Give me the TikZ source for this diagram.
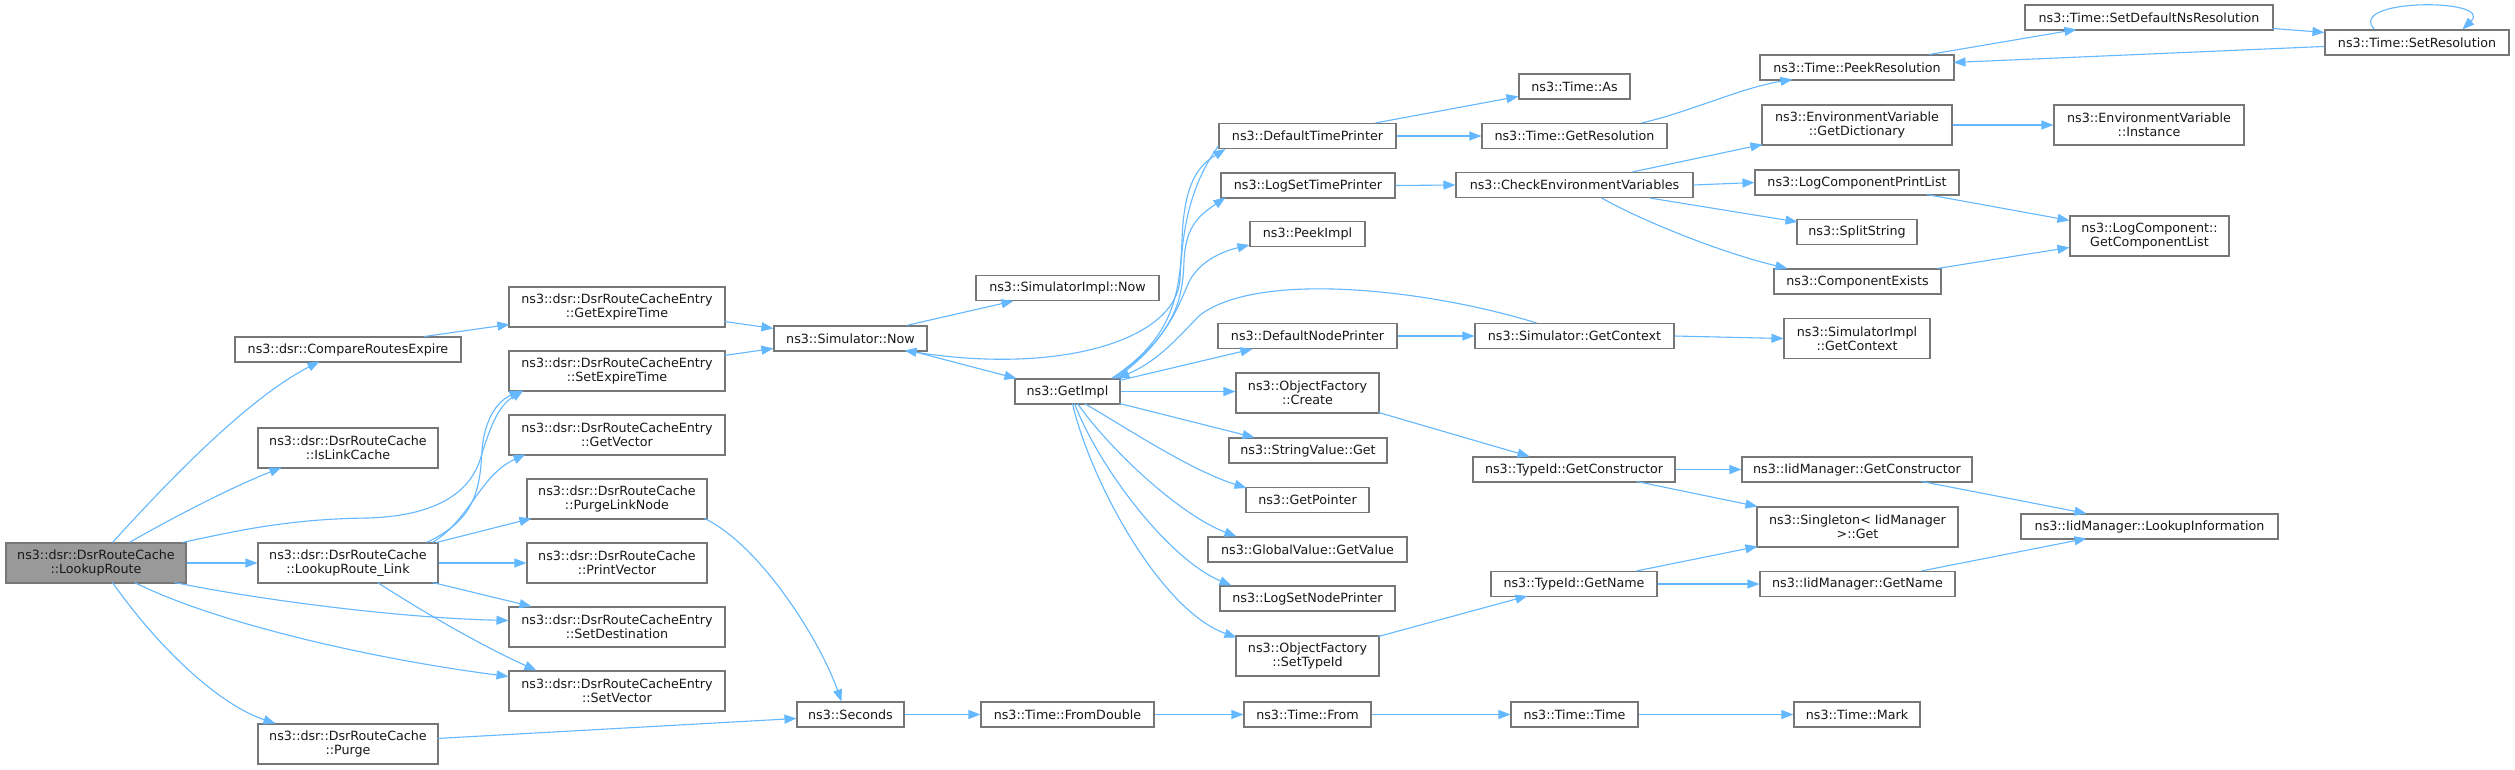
\documentclass[tikz,border=0pt]{standalone}
\usepackage{fontspec}
\setmainfont{DejaVu Sans}
\usetikzlibrary{arrows.meta,calc}
\definecolor{edgec}{HTML}{63B8FF}
\definecolor{boxc}{HTML}{777777}
\definecolor{rootc}{HTML}{999999}
\begin{document}
\begin{tikzpicture}[x=1pt,y=-1pt,
 box/.style={draw=boxc,line width=1.1pt,fill=white,inner sep=0pt,align=center,
   font=\fontsize{12.7}{14}\selectfont,text=black!90,minimum height=25pt},
 tall/.style={minimum height=40pt},
 e/.style={draw=edgec,line width=1.1pt,-{Triangle[length=12pt,width=9pt]}}]
\useasboundingbox[fill=white] (0,0) rectangle (2515,769);
% column 0
\node[box,tall,fill=rootc,minimum width=180pt] (lr) at (96,563) {ns3::dsr::DsrRouteCache\\::LookupRoute};
% column 1
\node[box,minimum width=226pt] (cre) at (348,349.5) {ns3::dsr::CompareRoutesExpire};
\node[box,tall,minimum width=180pt] (ilc) at (348,448) {ns3::dsr::DsrRouteCache\\::IsLinkCache};
\node[box,tall,minimum width=180pt] (lrl) at (348,563) {ns3::dsr::DsrRouteCache\\::LookupRoute\_Link};
\node[box,tall,minimum width=180pt] (pur) at (348,744) {ns3::dsr::DsrRouteCache\\::Purge};
% column 2
\node[box,tall,minimum width=216pt] (get) at (617,307) {ns3::dsr::DsrRouteCacheEntry\\::GetExpireTime};
\node[box,tall,minimum width=216pt] (set) at (617,371) {ns3::dsr::DsrRouteCacheEntry\\::SetExpireTime};
\node[box,tall,minimum width=216pt] (gv) at (617,435) {ns3::dsr::DsrRouteCacheEntry\\::GetVector};
\node[box,tall,minimum width=180pt] (pln) at (617,499) {ns3::dsr::DsrRouteCache\\::PurgeLinkNode};
\node[box,tall,minimum width=180pt] (pv) at (617,563) {ns3::dsr::DsrRouteCache\\::PrintVector};
\node[box,tall,minimum width=216pt] (sd) at (617,627) {ns3::dsr::DsrRouteCacheEntry\\::SetDestination};
\node[box,tall,minimum width=216pt] (sv) at (617,691) {ns3::dsr::DsrRouteCacheEntry\\::SetVector};
% column 3
\node[box,minimum width=153pt] (sn) at (850.5,338.5) {ns3::Simulator::Now};
\node[box,minimum width=107pt] (sec) at (850.5,714.5) {ns3::Seconds};
% column 4
\node[box,minimum width=183pt] (sin) at (1067.5,288) {ns3::SimulatorImpl::Now};
\node[box,minimum width=105pt] (gi) at (1067.5,391.5) {ns3::GetImpl};
\node[box,minimum width=173pt] (tfd) at (1067.5,714.5) {ns3::Time::FromDouble};
% column 5
\node[box,minimum width=177pt] (dtp) at (1307.5,136) {ns3::DefaultTimePrinter};
\node[box,minimum width=174pt] (lstp) at (1308,185.5) {ns3::LogSetTimePrinter};
\node[box,minimum width=115pt] (pi) at (1307.5,234) {ns3::PeekImpl};
\node[box,minimum width=179pt] (dnp) at (1307.5,336) {ns3::DefaultNodePrinter};
\node[box,tall,minimum width=143pt] (ofc) at (1307.5,393) {ns3::ObjectFactory\\::Create};
\node[box,minimum width=158pt] (svg) at (1308,450.5) {ns3::StringValue::Get};
\node[box,minimum width=123pt] (gp) at (1307.5,500) {ns3::GetPointer};
\node[box,minimum width=199pt] (gvv) at (1307.5,549.5) {ns3::GlobalValue::GetValue};
\node[box,minimum width=175pt] (lsnp) at (1307.5,598.5) {ns3::LogSetNodePrinter};
\node[box,tall,minimum width=143pt] (ofs) at (1307.5,656) {ns3::ObjectFactory\\::SetTypeId};
\node[box,minimum width=127pt] (tf) at (1307.5,714.5) {ns3::Time::From};
% column 6
\node[box,minimum width=111pt] (tas) at (1574.5,86.5) {ns3::Time::As};
\node[box,minimum width=185pt] (tgr) at (1574.5,136) {ns3::Time::GetResolution};
\node[box,minimum width=237pt] (cev) at (1574.5,185) {ns3::CheckEnvironmentVariables};
\node[box,minimum width=199pt] (sgc) at (1574.5,336) {ns3::Simulator::GetContext};
\node[box,minimum width=202pt] (tgc) at (1574,469.5) {ns3::TypeId::GetConstructor};
\node[box,minimum width=166pt] (tgn) at (1574,584) {ns3::TypeId::GetName};
\node[box,minimum width=127pt] (tt) at (1574.5,714.5) {ns3::Time::Time};
% column 7
\node[box,minimum width=194pt] (tpr) at (1857,67.5) {ns3::Time::PeekResolution};
\node[box,tall,minimum width=190pt] (egd) at (1857,125) {ns3::EnvironmentVariable\\::GetDictionary};
\node[box,minimum width=204pt] (lcpl) at (1857,182.5) {ns3::LogComponentPrintList};
\node[box,minimum width=120pt] (ss) at (1857,232) {ns3::SplitString};
\node[box,minimum width=167pt] (ce) at (1857.5,281.5) {ns3::ComponentExists};
\node[box,tall,minimum width=146pt] (sigc) at (1857,338.5) {ns3::SimulatorImpl\\::GetContext};
\node[box,minimum width=230pt] (igc) at (1857,469.5) {ns3::IidManager::GetConstructor};
\node[box,tall,minimum width=201pt] (sg) at (1857.5,527) {ns3::Singleton< IidManager\\ >::Get};
\node[box,minimum width=195pt] (ign) at (1857.5,584) {ns3::IidManager::GetName};
\node[box,minimum width=126pt] (tm) at (1857,714.5) {ns3::Time::Mark};
% column 8
\node[box,minimum width=248pt] (tsd) at (2149,17.5) {ns3::Time::SetDefaultNsResolution};
\node[box,tall,minimum width=190pt] (evi) at (2149,125) {ns3::EnvironmentVariable\\::Instance};
\node[box,tall,minimum width=159pt] (lcg) at (2149.5,236) {ns3::LogComponent::\\GetComponentList};
\node[box,minimum width=257pt] (ili) at (2149.5,526.5) {ns3::IidManager::LookupInformation};
% column 9
\node[box,minimum width=184pt] (tsr) at (2417,42.5) {ns3::Time::SetResolution};

% ---- edges from LookupRoute
\draw[e] ($(lr.north west)+(107,0)$) .. controls (165,485) and (245,400) .. ($(cre.north west)+(85,25)$);
\draw[e] ($(lr.north west)+(124,0)$) .. controls (165,522) and (225,490) .. ($(ilc.north west)+(24,40)$);
\draw[e] ($(lr.north west)+(177,0)$) .. controls (240,530) and (290,519) .. (367,518)
   .. controls (440,516) and (470,490) .. (480,460) .. controls (492,420) and (500,405) .. ($(set.north west)+(15,40)$);
\draw[e] (lr.east) -- (lrl.west);
\draw[e] ($(lr.north west)+(169,40)$) .. controls (260,600) and (400,618) .. ($(sd.north west)+(0,14)$);
\draw[e] ($(lr.north west)+(129,40)$) .. controls (220,625) and (380,660) .. ($(sv.north west)+(0,6)$);
\draw[e] ($(lr.north west)+(107,40)$) .. controls (160,650) and (220,705) .. ($(pur.north west)+(18,0)$);
% ---- edges from LookupRoute_Link
\draw[e] ($(lrl.north west)+(169,0)$) .. controls (475,520) and (480,490) .. (482,450)
   .. controls (485,415) and (500,400) .. ($(set.north west)+(13,40)$);
\draw[e] ($(lrl.north west)+(175,0)$) .. controls (470,520) and (480,475) .. ($(gv.north west)+(17,40)$);
\draw[e] ($(lrl.north west)+(179,0)$) -- ($(pln.north west)+(5,40)$);
\draw[e] (lrl.east) -- (pv.west);
\draw[e] ($(lrl.north west)+(175,40)$) -- ($(sd.north west)+(23,0)$);
\draw[e] ($(lrl.north west)+(120,40)$) .. controls (420,610) and (480,645) .. ($(sv.north west)+(28,0)$);
% ---- other left edges
\draw[e] ($(pur.north west)+(180,15)$) -- ($(sec.north west)+(0,17)$);
\draw[e] ($(pln.north west)+(178,40)$) .. controls (760,545) and (820,640) .. ($(sec.north west)+(45,0)$);
\draw[e] ($(cre.north west)+(190,0)$) -- ($(get.north west)+(1,38)$);
\draw[e] ($(get.north west)+(216,35)$) -- ($(sn.north west)+(0,3)$);
\draw[e] ($(set.north west)+(216,5)$) -- ($(sn.north west)+(0,23)$);
% ---- Simulator::Now / GetImpl
\draw[e] ($(sn.north west)+(133,0)$) -- ($(sin.north west)+(38,26)$);
\draw[e] ($(sn.north west)+(136,25)$) -- ($(gi.north west)+(2,0)$);
\draw[e] ($(dtp.north west)+(0,23)$) .. controls (1190,185) and (1182,230) .. (1180,280)
   .. controls (1175,340) and (1060,375) .. ($(sn.north west)+(131,25)$);
\draw[e] ($(gi.north west)+(97,0)$) .. controls (1170,340) and (1180,300) .. (1182,240)
   .. controls (1184,180) and (1200,165) .. ($(dtp.north west)+(7,26)$);
\draw[e] ($(gi.north west)+(99,0)$) .. controls (1175,335) and (1183,300) .. (1184,260)
   .. controls (1186,225) and (1200,215) .. ($(lstp.north west)+(5,25)$);
\draw[e] ($(gi.north west)+(101,0)$) .. controls (1170,340) and (1180,300) .. (1190,280)
   .. controls (1200,262) and (1220,252) .. ($(pi.north west)+(0,24)$);
\draw[e] ($(sgc.north west)+(62,0)$) .. controls (1430,290) and (1260,270) .. (1200,315)
   .. controls (1180,335) and (1160,360) .. ($(gi.north west)+(103,0)$);
\draw[e] ($(gi.north west)+(105,2)$) -- ($(dnp.north west)+(35,26)$);
\draw[e] (gi.east) -- (gi.east -| ofc.west);
\draw[e] ($(gi.north west)+(105,25)$) -- ($(svg.north west)+(26,0)$);
\draw[e] ($(gi.north west)+(70,25)$) .. controls (1130,430) and (1190,470) .. ($(gp.north west)+(1,1)$);
\draw[e] ($(gi.north west)+(63,25)$) .. controls (1110,450) and (1180,515) .. ($(gvv.north west)+(29,0)$);
\draw[e] ($(gi.north west)+(60,25)$) .. controls (1100,470) and (1170,560) .. ($(lsnp.north west)+(12,0)$);
\draw[e] ($(gi.north west)+(58,25)$) .. controls (1090,480) and (1160,610) .. ($(ofs.north west)+(1,2)$);
% ---- column 5 -> 6
\draw[e] ($(ofc.north west)+(143,40)$) -- ($(tgc.north west)+(57,0)$);
\draw[e] ($(ofs.north west)+(143,1)$) -- ($(tgn.north west)+(37,25)$);
\draw[e] ($(dtp.north west)+(157,0)$) -- ($(tas.north west)+(0,23)$);
\draw[e] (dtp.east) -- (tgr.west);
\draw[e] (lstp.east) -- (cev.west);
\draw[e] (dnp.east) -- (sgc.west);
% ---- column 6 -> 7
\draw[e] ($(tgr.north west)+(160,0)$) .. controls (1690,112) and (1740,88) .. ($(tpr.north west)+(33,25)$);
\draw[e] ($(cev.north west)+(177,0)$) -- ($(egd.north west)+(1,40)$);
\draw[e] (cev.east) -- (lcpl.west);
\draw[e] ($(cev.north west)+(194,26)$) -- ($(ss.north west)+(1,3)$);
\draw[e] ($(cev.north west)+(146,26)$) .. controls (1650,225) and (1730,255) .. ($(ce.north west)+(14,0)$);
\draw[e] (sgc.east) -- (sigc.west);
\draw[e] (tgc.east) -- (igc.west);
\draw[e] ($(tgc.north west)+(164,25)$) -- ($(sg.north west)+(1,0)$);
\draw[e] ($(tgn.north west)+(146,0)$) -- ($(sg.north west)+(1,40)$);
\draw[e] (tgn.east) -- (ign.west);
% ---- column 7 -> 8
\draw[e] ($(igc.north west)+(180,25)$) -- ($(ili.north west)+(66,0)$);
\draw[e] ($(ign.north west)+(162,0)$) -- ($(ili.north west)+(66,25)$);
\draw[e] (egd.east) -- (evi.west);
\draw[e] ($(lcpl.north west)+(172,25)$) -- ($(lcg.north west)+(0,5)$);
\draw[e] ($(ce.north west)+(164,0)$) -- ($(lcg.north west)+(0,32)$);
\draw[e] ($(tpr.north west)+(170,0)$) -- ($(tsd.north west)+(52,25)$);
\draw[e] ($(tsd.north west)+(248,24)$) -- ($(tsr.north west)+(0,3)$);
\draw[e] ($(tsr.north west)+(0,17)$) -- ($(tpr.north west)+(194,8)$);
\draw[e] ($(tsr.north west)+(50,0)$) .. controls (2345,-2) and (2495,-2) .. ($(tsr.north west)+(138,0)$);
% ---- bottom chain
\draw[e] (sec.east) -- (tfd.west);
\draw[e] (tfd.east) -- (tf.west);
\draw[e] (tf.east) -- (tt.west);
\draw[e] (tt.east) -- (tm.west);
\end{tikzpicture}
\end{document}
